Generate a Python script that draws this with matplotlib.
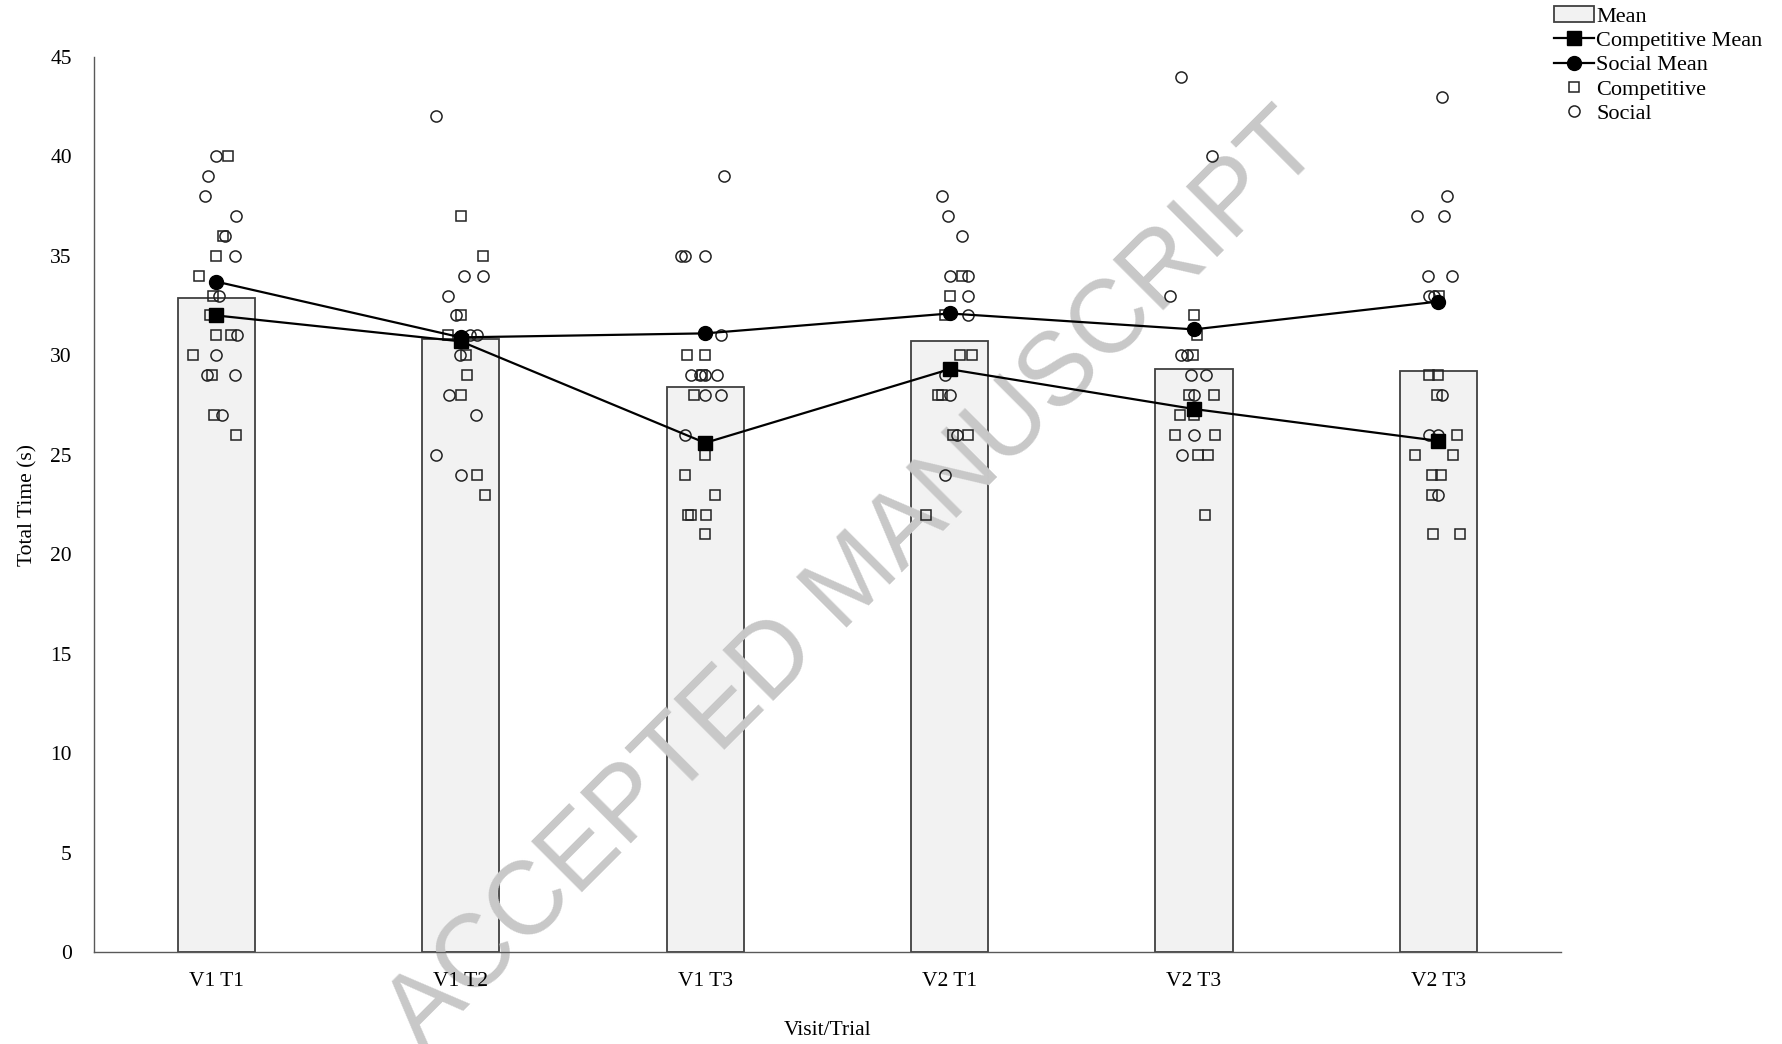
import matplotlib
matplotlib.use('Agg')
import matplotlib.pyplot as plt
from matplotlib.lines import Line2D
from matplotlib.patches import Patch
import numpy as np

plt.rcParams['font.family'] = ['Liberation Serif', 'DejaVu Serif']

trials = ['V1 T1', 'V1 T2', 'V1 T3', 'V2 T1', 'V2 T3', 'V2 T3']

overall_mean = [32.9, 30.8, 28.4, 30.7, 29.3, 29.2]
comp_mean = [32.0, 30.7, 25.6, 29.3, 27.3, 25.7]
social_mean = [33.7, 30.9, 31.1, 32.1, 31.3, 32.7]

# individual times per trial (s)
comp_times = [
    [40, 36, 35, 34, 33, 32, 31, 31, 30, 29, 27, 26],
    [37, 35, 32, 31, 30, 29, 28, 24, 23],
    [30, 30, 29, 28, 25, 24, 23, 22, 22, 22, 21],
    [34, 33, 32, 30, 30, 28, 28, 26, 26, 22],
    [32, 31, 30, 28, 28, 27, 27, 26, 26, 25, 25, 22],
    [33, 29, 29, 28, 26, 25, 25, 24, 24, 23, 21, 21],
]
social_times = [
    [40, 39, 38, 37, 36, 35, 33, 31, 30, 29, 29, 27],
    [42, 34, 34, 33, 32, 31, 31, 30, 28, 27, 25, 24],
    [39, 35, 35, 35, 31, 29, 29, 29, 29, 28, 28, 26],
    [38, 37, 36, 34, 34, 33, 32, 29, 28, 26, 24],
    [44, 40, 33, 30, 30, 29, 29, 28, 26, 25],
    [43, 38, 37, 37, 34, 34, 33, 33, 28, 26, 26, 23],
]

# horizontal spread of the dots around each category
comp_jitter = [
    [0.048, 0.026, 0, -0.069, -0.012, -0.025, 0, 0.061, -0.097, -0.018, -0.011, 0.08],
    [0, 0.09, 0.002, -0.053, 0.023, 0.025, 0, 0.065, 0.10],
    [-0.074, 0, -0.012, -0.045, 0, -0.083, 0.041, -0.069, -0.06, 0.004, 0],
    [0.052, 0, -0.02, 0.041, 0.09, -0.049, -0.033, 0.012, 0.074, -0.096],
    [0, 0.012, -0.004, -0.022, 0.08, -0.059, 0, -0.076, 0.084, 0.016, 0.059, 0.043],
    [0.002, -0.037, 0, -0.005, 0.076, -0.098, 0.06, -0.026, 0.011, -0.026, -0.023, 0.09],
]
social_jitter = [
    [0, -0.036, -0.048, 0.08, 0.034, 0.075, 0.009, 0.086, 0, -0.038, 0.078, 0.023],
    [-0.10, 0.012, 0.09, -0.053, -0.019, 0.037, 0.065, -0.004, -0.049, 0.061, -0.10, 0],
    [0.076, -0.097, -0.083, 0, 0.065, -0.056, -0.022, 0, 0.049, 0, 0.065, -0.083],
    [-0.03, -0.008, 0.052, 0, 0.076, 0.076, 0.076, -0.02, 0, 0.029, -0.019],
    [-0.053, 0.073, -0.098, -0.053, -0.029, -0.012, 0.049, 0, 0, -0.049],
    [0.015, 0.033, -0.087, 0.022, -0.042, 0.056, -0.039, -0.019, 0.015, -0.039, 0, 0],
]

fig = plt.figure(figsize=(17.82, 10.44), dpi=100)
ax = fig.add_axes([0.0528, 0.0877, 0.823, 0.858])
ax.set_axisbelow(False)  # axis labels sit above the watermark

x = np.arange(len(trials))
ax.bar(x, overall_mean, width=0.316, color='#f2f2f2', edgecolor='#404040',
       linewidth=1.3, zorder=1)

for i in range(len(trials)):
    cx = i + np.array(comp_jitter[i])
    sx = i + np.array(social_jitter[i])
    ax.plot(cx, comp_times[i], ls='none', marker='s', ms=7.5, mfc='none',
            mec='#222222', mew=1.1, zorder=3)
    ax.plot(sx, social_times[i], ls='none', marker='o', ms=8, mfc='none',
            mec='#222222', mew=1.1, zorder=3)

ax.plot(x, comp_mean, color='black', lw=1.6, marker='s', ms=10, zorder=4)
ax.plot(x, social_mean, color='black', lw=1.6, marker='o', ms=10, zorder=4)

ax.set_xlim(-0.5, len(trials) - 0.5)
ax.set_ylim(0, 45)
ax.set_yticks(np.arange(0, 46, 5))
ax.set_xticks(x)
ax.set_xticklabels(trials)
ax.tick_params(length=0, labelsize=15.5, pad=14)
ax.tick_params(axis='y', pad=16)
for side in ['top', 'right']:
    ax.spines[side].set_visible(False)
for side in ['left', 'bottom']:
    ax.spines[side].set_color('#595959')
    ax.spines[side].set_linewidth(1.0)

ax.set_xlabel('Visit/Trial', fontsize=15.5, labelpad=22)
ax.set_ylabel('Total Time (s)', fontsize=15.5, labelpad=9)

handles = [
    Patch(facecolor='#f2f2f2', edgecolor='#404040', linewidth=1.3),
    Line2D([], [], color='black', lw=1.6, marker='s', ms=10),
    Line2D([], [], color='black', lw=1.6, marker='o', ms=10),
    Line2D([], [], ls='none', marker='s', ms=7.5, mfc='none', mec='#222222', mew=1.1),
    Line2D([], [], ls='none', marker='o', ms=8, mfc='none', mec='#222222', mew=1.1),
]
labels = ['Mean', 'Competitive Mean', 'Social Mean', 'Competitive', 'Social']
fig.legend(handles, labels, loc='upper left', bbox_to_anchor=(0.872, 0.994),
           frameon=False, fontsize=16, handlelength=1.8, handletextpad=0.1,
           labelspacing=0.17, borderpad=0, borderaxespad=0)

ax.text(0.48, 0.442, 'ACCEPTED MANUSCRIPT', rotation=45, fontsize=74.5,
        family='Liberation Sans', color='#c8c8c8', ha='center', va='center',
        rotation_mode='anchor', transform=fig.transFigure, clip_on=False,
        zorder=2)

fig.savefig('out.png', dpi=100)
